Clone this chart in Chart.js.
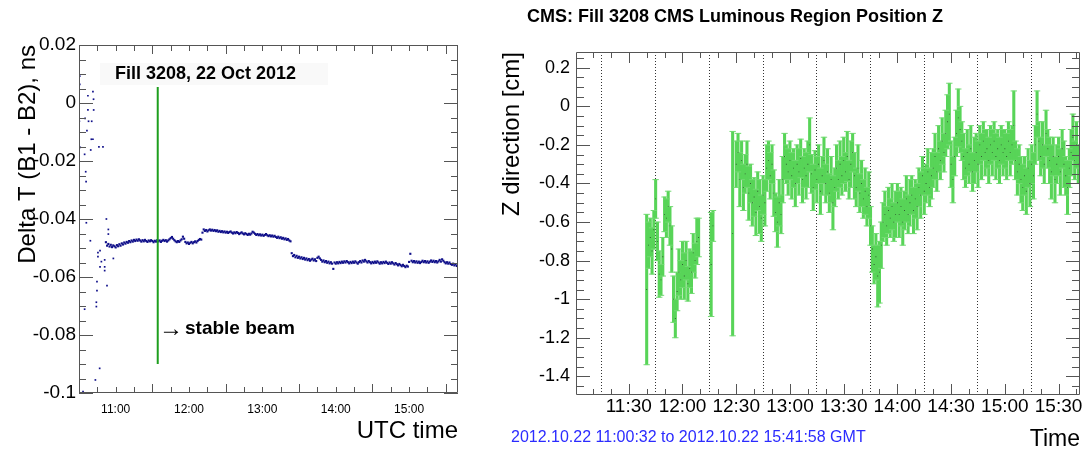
<!DOCTYPE html>
<html>
<head>
<meta charset="utf-8">
<script src="https://cdn.jsdelivr.net/npm/chart.js@4/dist/chart.umd.min.js"></script>
<style>
  body { margin: 0; background: #fff; }
  #wrap { position: relative; width: 1085px; height: 451px; }
  canvas { position: absolute; top: 0; }
  #left { left: 0; }
  #right { left: 480px; }
</style>
</head>
<body>
<div id="wrap">
  <canvas id="left" width="480" height="451"></canvas>
  <canvas id="right" width="605" height="451"></canvas>
</div>
<script>
// ---- left panel: Delta T (B1 - B2) in ns, time in minutes after midnight UTC
const dtHourTicks = [660, 720, 780, 840, 900];
const dtHourLabels = ["11:00", "12:00", "13:00", "14:00", "15:00"];
const dtYTicks = [-0.1, -0.08, -0.06, -0.04, -0.02, 0, 0.02];
const dtYLabels = ["-0.1", "-0.08", "-0.06", "-0.04", "-0.02", "0", "0.02"];

// scattered readings before the beams settle
const dtEarlyTime = [630.0, 630.6, 630.6, 630.3, 631.0, 633.3, 634.6, 634.6, 635.0, 635.5, 635.8, 636.0,
  636.5, 637.3, 637.3, 637.8, 639.3, 639.6, 640.1, 640.4, 641.4, 641.4, 641.9, 642.0, 643.4, 644.2,
  644.2, 644.7, 644.7, 645.5, 645.5, 646.3, 646.9, 647.2, 647.2, 648.3, 649.6, 651.0, 651.0, 651.0,
  652.4, 652.9, 654.0, 654.0, 658.1];
const dtEarlyValue = [-0.0125, 0.0093, 0.0064, -0.0063, -0.0153, -0.0995, -0.0711, -0.0177, -0.0053,
  -0.0237, -0.0271, -0.0413, -0.0095, 0.0025, -0.0024, -0.0063, -0.0475, -0.0162, -0.0125, -0.0063,
  0.0039, -0.0125, 0.0013, -0.0024, -0.0955, -0.0687, -0.0702, -0.0647, -0.0616, -0.0516, -0.0530,
  -0.0151, -0.0915, -0.0509, -0.0565, -0.0547, -0.0151, -0.0541, -0.0565, -0.0578, -0.0400, -0.0630,
  -0.0436, -0.0452, -0.0536];

// steady band, one reading per minute from 10:52
const dtBandStart = 652;
const dtBandValue = [
  -0.0480, -0.0492, -0.0486, -0.0495, -0.0489, -0.0497, -0.0491, -0.0494,
  -0.0498, -0.0490, -0.0494, -0.0487, -0.0492, -0.0484, -0.0488, -0.0481, -0.0485, -0.0479,
  -0.0482, -0.0476, -0.0480, -0.0474, -0.0478, -0.0472, -0.0476, -0.0471, -0.0475, -0.0470,
  -0.0474, -0.0478, -0.0473, -0.0477, -0.0472, -0.0476, -0.0479, -0.0474, -0.0477, -0.0473,
  -0.0476, -0.0480, -0.0475, -0.0478, -0.0473, -0.0477, -0.0474, -0.0479, -0.0475, -0.0472,
  -0.0476, -0.0473, -0.0478, -0.0474, -0.0470, -0.0466, -0.0462, -0.0468, -0.0473, -0.0477,
  -0.0480, -0.0476, -0.0479, -0.0474, -0.0470, -0.0461, -0.0468, -0.0479, -0.0484, -0.0481,
  -0.0486, -0.0482, -0.0479, -0.0484, -0.0480, -0.0477, -0.0481, -0.0476, -0.0472, -0.0469,
  -0.0471, -0.0447, -0.0436, -0.0441, -0.0438, -0.0443, -0.0439, -0.0436, -0.0440, -0.0437,
  -0.0441, -0.0438, -0.0442, -0.0439, -0.0444, -0.0441, -0.0445, -0.0442, -0.0446, -0.0443,
  -0.0447, -0.0444, -0.0448, -0.0445, -0.0443, -0.0447, -0.0450, -0.0446, -0.0449, -0.0445,
  -0.0448, -0.0452, -0.0449, -0.0446, -0.0450, -0.0453, -0.0449, -0.0452, -0.0455, -0.0451,
  -0.0454, -0.0450, -0.0444, -0.0447, -0.0451, -0.0455, -0.0452, -0.0456, -0.0453, -0.0457,
  -0.0454, -0.0458, -0.0455, -0.0452, -0.0456, -0.0459, -0.0456, -0.0460, -0.0457, -0.0461,
  -0.0458, -0.0462, -0.0465, -0.0461, -0.0466, -0.0463, -0.0468, -0.0465, -0.0470, -0.0467,
  -0.0472, -0.0469, -0.0474, -0.0477, -0.0518, -0.0528, -0.0524, -0.0532, -0.0527, -0.0534,
  -0.0530, -0.0536, -0.0532, -0.0538, -0.0534, -0.0540, -0.0536, -0.0542, -0.0538, -0.0544,
  -0.0540, -0.0537, -0.0543, -0.0539, -0.0545, -0.0534, -0.0530, -0.0536, -0.0541, -0.0547,
  -0.0543, -0.0549, -0.0545, -0.0551, -0.0547, -0.0553, -0.0549, -0.0554, -0.0572, -0.0550,
  -0.0554, -0.0549, -0.0553, -0.0548, -0.0552, -0.0547, -0.0551, -0.0546, -0.0550, -0.0545,
  -0.0549, -0.0553, -0.0548, -0.0552, -0.0547, -0.0551, -0.0546, -0.0550, -0.0554, -0.0549,
  -0.0545, -0.0550, -0.0543, -0.0547, -0.0541, -0.0546, -0.0550, -0.0545, -0.0549, -0.0553,
  -0.0548, -0.0552, -0.0547, -0.0551, -0.0546, -0.0550, -0.0554, -0.0549, -0.0553, -0.0548,
  -0.0552, -0.0547, -0.0551, -0.0555, -0.0550, -0.0554, -0.0549, -0.0553, -0.0557, -0.0552,
  -0.0556, -0.0560, -0.0555, -0.0559, -0.0563, -0.0558, -0.0562, -0.0566, -0.0561, -0.0564,
  -0.0548, -0.0520, -0.0544, -0.0549, -0.0545, -0.0550, -0.0546, -0.0551, -0.0547, -0.0552,
  -0.0548, -0.0544, -0.0549, -0.0545, -0.0550, -0.0546, -0.0551, -0.0547, -0.0543, -0.0548,
  -0.0544, -0.0549, -0.0545, -0.0550, -0.0546, -0.0541, -0.0547, -0.0539, -0.0544, -0.0549,
  -0.0553, -0.0549, -0.0554, -0.0550, -0.0555, -0.0558, -0.0554, -0.0560, -0.0556, -0.0562,
  -0.0559];

// stable beam marker (11:34)
const stableBeamTime = 694.4;
const stableBeamRange = [-0.09, 0.0055];

// ---- right panel: luminous region z position [cm]
const zXTicks = [690, 720, 750, 780, 810, 840, 870, 900, 930];
const zXLabels = ["11:30", "12:00", "12:30", "13:00", "13:30", "14:00", "14:30", "15:00", "15:30"];
const zYTicks = [-1.4, -1.2, -1, -0.8, -0.6, -0.4, -0.2, 0, 0.2];
const zYLabels = ["-1.4", "-1.2", "-1", "-0.8", "-0.6", "-0.4", "-0.2", "0", "0.2"];

const zEarlyTime = [700, 701, 702, 703, 704, 705, 706, 707, 708, 709, 710, 711, 712, 713, 714, 715,
  716, 717, 718, 719, 720, 721, 722, 723, 724, 725, 726, 727, 728, 729, 736, 737, 748];
const zEarlyValue = [-0.95, -0.72, -0.68, -0.75, -0.64, -0.48, -0.70, -0.87, -0.90, -0.78, -0.56,
  -0.58, -0.52, -0.62, -0.74, -1.00, -1.10, -0.96, -0.86, -0.90, -0.82, -0.88, -0.80, -0.92, -0.84,
  -0.86, -0.76, -0.80, -0.70, -0.68, -0.82, -0.62, -0.66];
const zEarlyError = [0.39, 0.12, 0.10, 0.12, 0.10, 0.10, 0.10, 0.12, 0.08, 0.10, 0.09, 0.10, 0.08,
  0.10, 0.12, 0.12, 0.10, 0.10, 0.12, 0.10, 0.12, 0.12, 0.10, 0.09, 0.10, 0.11, 0.10, 0.09, 0.12,
  0.10, 0.27, 0.08, 0.53];

// one reading per minute from 12:30
const zMainStart = 750;
const zMainValue = [
  -0.30, -0.24, -0.38, -0.28, -0.42, -0.35, -0.30, -0.45, -0.40, -0.50,
  -0.47, -0.55, -0.44, -0.52, -0.58, -0.46, -0.50, -0.32, -0.28, -0.36,
  -0.30, -0.45, -0.55, -0.60, -0.50, -0.56, -0.38, -0.26, -0.30, -0.34,
  -0.28, -0.36, -0.32, -0.40, -0.30, -0.34, -0.27, -0.38, -0.32, -0.36,
  -0.30, -0.20, -0.35, -0.42, -0.33, -0.38, -0.30, -0.44, -0.36, -0.28,
  -0.40, -0.34, -0.45, -0.38, -0.50, -0.42, -0.32, -0.38, -0.30, -0.36,
  -0.28, -0.34, -0.26, -0.38, -0.30, -0.24, -0.36, -0.42, -0.32, -0.45,
  -0.40, -0.48, -0.44, -0.52, -0.46, -0.62, -0.74, -0.82, -0.78, -0.88,
  -0.86, -0.72, -0.60, -0.56, -0.62, -0.54, -0.58, -0.52, -0.60, -0.56,
  -0.50, -0.56, -0.52, -0.60, -0.54, -0.48, -0.56, -0.50, -0.46, -0.54,
  -0.48, -0.52, -0.42, -0.46, -0.36, -0.44, -0.40, -0.34, -0.42, -0.36,
  -0.32, -0.26, -0.34, -0.22, -0.28, -0.18, -0.24, -0.14, -0.08, -0.04,
  -0.30, -0.38, -0.26, -0.14, -0.06, -0.12, -0.18, -0.26, -0.32, -0.24,
  -0.30, -0.22, -0.34, -0.28, -0.24, -0.30, -0.20, -0.26, -0.18, -0.24,
  -0.22, -0.28, -0.20, -0.24, -0.18, -0.26, -0.22, -0.28, -0.20, -0.24,
  -0.22, -0.26, -0.18, -0.24, -0.20, -0.10, -0.28, -0.34, -0.30, -0.38,
  -0.42, -0.36, -0.44, -0.32, -0.40, -0.30, -0.36, -0.20, -0.04, -0.18,
  -0.26, -0.20, -0.30, -0.14, -0.22, -0.28, -0.34, -0.26, -0.38, -0.30,
  -0.26, -0.34, -0.22, -0.30, -0.36, -0.42, -0.32, -0.24, -0.16, -0.28,
  -0.20, -0.30];
const zMainError = [
  0.12, 0.10, 0.14, 0.10, 0.12, 0.10, 0.12, 0.14, 0.10, 0.12,
  0.10, 0.12, 0.10, 0.14, 0.12, 0.10, 0.12, 0.12, 0.10, 0.12,
  0.10, 0.12, 0.10, 0.13, 0.12, 0.10, 0.12, 0.12, 0.10, 0.12,
  0.10, 0.12, 0.10, 0.12, 0.10, 0.12, 0.10, 0.12, 0.10, 0.12,
  0.12, 0.14, 0.10, 0.12, 0.10, 0.12, 0.10, 0.12, 0.10, 0.12,
  0.10, 0.12, 0.10, 0.12, 0.14, 0.10, 0.12, 0.10, 0.12, 0.10,
  0.12, 0.10, 0.13, 0.10, 0.12, 0.10, 0.12, 0.10, 0.12, 0.10,
  0.12, 0.10, 0.12, 0.10, 0.12, 0.10, 0.12, 0.10, 0.12, 0.16,
  0.16, 0.12, 0.10, 0.12, 0.10, 0.12, 0.10, 0.12, 0.10, 0.12,
  0.10, 0.12, 0.10, 0.12, 0.10, 0.12, 0.10, 0.12, 0.10, 0.12,
  0.10, 0.12, 0.10, 0.12, 0.10, 0.12, 0.10, 0.12, 0.10, 0.12,
  0.10, 0.12, 0.10, 0.12, 0.10, 0.12, 0.10, 0.12, 0.14, 0.16,
  0.12, 0.12, 0.10, 0.12, 0.15, 0.12, 0.10, 0.12, 0.10, 0.12,
  0.10, 0.12, 0.10, 0.12, 0.10, 0.12, 0.10, 0.12, 0.10, 0.12,
  0.10, 0.12, 0.10, 0.12, 0.10, 0.12, 0.10, 0.12, 0.10, 0.12,
  0.10, 0.12, 0.10, 0.12, 0.10, 0.18, 0.10, 0.12, 0.10, 0.12,
  0.12, 0.10, 0.12, 0.10, 0.12, 0.10, 0.12, 0.10, 0.12, 0.10,
  0.10, 0.12, 0.10, 0.12, 0.10, 0.12, 0.14, 0.10, 0.12, 0.10,
  0.10, 0.12, 0.10, 0.12, 0.10, 0.14, 0.10, 0.12, 0.12, 0.10,
  0.12, 0.10];

const FONT = "'Liberation Sans', Arial, Helvetica, sans-serif";
Chart.defaults.font.family = FONT;
Chart.defaults.color = "#000";

// ROOT style frame: box round the plot, ticks pointing inwards on all sides
const rootFrame = {
  id: "rootFrame",
  afterDatasetsDraw(chart, args, o) {
    const { ctx, chartArea: a, scales } = chart;
    ctx.save();
    ctx.strokeStyle = o.color;
    ctx.lineWidth = 1;
    ctx.beginPath();
    ctx.rect(a.left + 0.5, a.top + 0.5, a.right - a.left - 1, a.bottom - a.top - 1);
    for (const [v, len] of o.xTicks) {
      const p = Math.round(scales.x.getPixelForValue(v)) + 0.5;
      ctx.moveTo(p, a.bottom); ctx.lineTo(p, a.bottom - len);
      ctx.moveTo(p, a.top); ctx.lineTo(p, a.top + len);
    }
    for (const [v, len] of o.yTicks) {
      const p = Math.round(scales.y.getPixelForValue(v)) + 0.5;
      ctx.moveTo(a.left, p); ctx.lineTo(a.left + len, p);
      ctx.moveTo(a.right, p); ctx.lineTo(a.right - len, p);
    }
    ctx.stroke();
    ctx.restore();
  }
};

// free text on the canvas (titles, notes)
const textLayer = {
  id: "textLayer",
  afterDraw(chart, args, o) {
    const ctx = chart.ctx;
    ctx.save();
    for (const t of o.items) {
      if (t.box) {
        ctx.fillStyle = t.box.color;
        ctx.fillRect(t.box.x, t.box.y, t.box.w, t.box.h);
      }
      ctx.font = t.font;
      ctx.fillStyle = t.color || "#000";
      ctx.textAlign = t.align || "left";
      ctx.textBaseline = "middle";
      ctx.fillText(t.text, t.x, t.y);
    }
    ctx.restore();
  }
};

// tick marks for the frame: [value, length]
function frameTicks(kFrom, kTo, step, majorEvery, majorLen, minorLen, offset) {
  const out = [];
  for (let k = kFrom; k <= kTo; k++) {
    out.push([offset + k * step, k % majorEvery === 0 ? majorLen : minorLen]);
  }
  return out;
}

// ---------------- left chart ----------------
const bandPoints = dtBandValue.map((v, i) => ({ x: dtBandStart + i, y: v }));
const earlyPoints = dtEarlyTime.map((t, i) => ({ x: t, y: dtEarlyValue[i] }));

new Chart(document.querySelector("#left"), {
  type: "scatter",
  data: {
    datasets: [
      {
        data: stableBeamRange.map(v => ({ x: stableBeamTime, y: v })),
        showLine: true,
        borderColor: "#1e9e1e",
        borderWidth: 2,
        pointRadius: 0,
        order: 0,
      },
      {
        data: bandPoints,
        pointStyle: "rect",
        pointRadius: 1.5,
        backgroundColor: "#10108a",
        borderWidth: 0,
        order: 1,
      },
      {
        data: earlyPoints,
        pointStyle: "rect",
        pointRadius: 1.2,
        backgroundColor: "#10108a",
        borderWidth: 0,
        order: 1,
      },
    ],
  },
  options: {
    responsive: false,
    animation: false,
    events: [],
    layout: { padding: { top: 45, right: 22, left: 0, bottom: 0 } },
    plugins: {
      legend: { display: false },
      tooltip: { enabled: false },
      rootFrame: {
        color: "#555",
        xTicks: frameTicks(0, 20, 15, 4, 9, 6, 630),
        yTicks: frameTicks(-20, 4, 0.005, 4, 14, 7, 0),
      },
      textLayer: {
        items: [
          { text: "Fill 3208, 22 Oct 2012", x: 115, y: 74, font: "bold 18px " + FONT,
            box: { x: 100, y: 63, w: 228, h: 22, color: "#f9f9f9" } },
          { text: "\u2192", x: 159, y: 329, font: "24px " + FONT },
          { text: "stable beam", x: 185, y: 329, font: "bold 19px " + FONT },
        ],
      },
    },
    scales: {
      x: {
        type: "linear",
        min: 630,
        max: 940,
        afterBuildTicks: s => { s.ticks = dtHourTicks.map(v => ({ value: v })); },
        afterFit: s => { s.height = 58; },
        ticks: {
          autoSkip: false,
          maxRotation: 0,
          padding: 9,
          font: { size: 12 },
          callback: (v, i) => dtHourLabels[i],
        },
        grid: { display: false, drawTicks: false },
        border: { display: false },
        title: {
          display: true,
          text: "UTC time",
          align: "end",
          font: { size: 24 },
          padding: { top: 0, bottom: 5 },
        },
      },
      y: {
        min: -0.1,
        max: 0.02,
        afterBuildTicks: s => { s.ticks = dtYTicks.map(v => ({ value: v })); },
        afterFit: s => { s.width = 79; },
        ticks: {
          autoSkip: false,
          padding: 3,
          font: { size: 19 },
          callback: (v, i) => dtYLabels[i],
        },
        grid: { display: false, drawTicks: false },
        border: { display: false },
        title: {
          display: true,
          text: "Delta T (B1 - B2), ns",
          align: "end",
          font: { size: 24 },
          padding: { top: 14, bottom: 0 },
        },
      },
    },
  },
  plugins: [rootFrame, textLayer],
});

// ---------------- right chart ----------------
const zTime = zEarlyTime.concat(zMainValue.map((v, i) => zMainStart + i));
const zValue = zEarlyValue.concat(zMainValue);
const zError = zEarlyError.concat(zMainError);

const zBars = zTime.map((t, i) => ({ x: t, y: [zValue[i] - zError[i], zValue[i] + zError[i]] }));
const zCaps = zTime.flatMap((t, i) => [
  { x: t, y: zValue[i] - zError[i] },
  { x: t, y: zValue[i] + zError[i] },
]);
const zCentres = zTime.map((t, i) => ({ x: t, y: zValue[i] }));

new Chart(document.querySelector("#right"), {
  type: "bar",
  data: {
    datasets: [
      {
        type: "scatter",
        data: zCentres,
        pointStyle: "rect",
        pointRadius: 0.6,
        backgroundColor: "#2a4a2a",
        borderWidth: 0,
        order: 0,
      },
      {
        type: "scatter",
        data: zCaps,
        pointStyle: "line",
        pointRadius: 3.2,
        borderColor: "#72da72",
        borderWidth: 1,
        order: 1,
      },
      {
        type: "bar",
        data: zBars,
        backgroundColor: "#58d458",
        barThickness: 2.4,
        borderWidth: 0,
        order: 2,
      },
    ],
  },
  options: {
    responsive: false,
    animation: false,
    events: [],
    layout: { padding: { top: 52, right: 4, left: 0, bottom: 0 } },
    plugins: {
      legend: { display: false },
      tooltip: { enabled: false },
      rootFrame: {
        color: "#555",
        xTicks: frameTicks(67, 94, 10, 3, 11, 6, 0),
        yTicks: frameTicks(-29, 5, 0.05, 4, 14, 8, 0),
      },
      textLayer: {
        items: [
          { text: "CMS: Fill 3208 CMS Luminous Region Position Z", x: 47, y: 17,
            font: "bold 18px " + FONT },
          { text: "2012.10.22 11:00:32 to 2012.10.22 15:41:58 GMT", x: 31, y: 438,
            font: "16px " + FONT, color: "#2b2bff" },
        ],
      },
    },
    scales: {
      x: {
        type: "linear",
        offset: false,
        min: 660.53,
        max: 941.97,
        afterBuildTicks: s => { s.ticks = zXTicks.map(v => ({ value: v })); },
        afterFit: s => { s.height = 56; },
        ticks: {
          autoSkip: false,
          maxRotation: 0,
          padding: 0,
          font: { size: 19 },
          callback: (v, i) => zXLabels[i],
        },
        grid: { display: true, drawTicks: false, color: "#333", lineWidth: 1 },
        border: { display: false, dash: [1, 2] },
        title: {
          display: true,
          text: "Time",
          align: "end",
          font: { size: 23 },
          padding: { top: 0, bottom: -2 },
        },
      },
      y: {
        min: -1.497,
        max: 0.282,
        afterBuildTicks: s => { s.ticks = zYTicks.map(v => ({ value: v })); },
        afterFit: s => { s.width = 96; },
        ticks: {
          autoSkip: false,
          padding: 6,
          font: { size: 18 },
          callback: (v, i) => zYLabels[i],
        },
        grid: { display: false, drawTicks: false },
        border: { display: false },
        title: {
          display: true,
          text: "Z direction [cm]",
          align: "end",
          font: { size: 24 },
          padding: { top: 18, bottom: 0 },
        },
      },
    },
  },
  plugins: [rootFrame, textLayer],
});
</script>
</body>
</html>
